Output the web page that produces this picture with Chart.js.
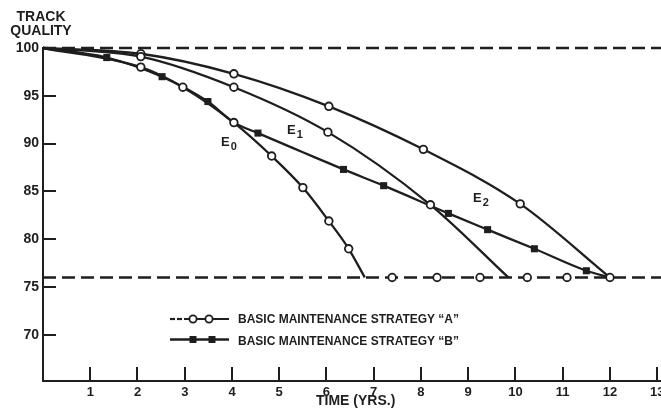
<!DOCTYPE html>
<html>
<head>
<meta charset="utf-8">
<script src="https://cdn.jsdelivr.net/npm/chart.js@4.4.0/dist/chart.umd.min.js"></script>
<style>
  html, body { margin: 0; padding: 0; background: #fff; }
  #wrap { position: relative; width: 661px; height: 415px; overflow: hidden;
          font-family: "Liberation Sans", Arial, sans-serif; font-weight: bold; color: #1e1e1e; }
  #chart { position: absolute; left: 0; top: 0; }
  .lbl { position: absolute; white-space: nowrap; }
  .sub { font-size: 11px; position: relative; top: 4px; margin-left: 1px; }
</style>
</head>
<body>
<div id="wrap">
  <canvas id="chart" width="661" height="415"></canvas>

  <div class="lbl" style="left:0;top:9px;width:82px;text-align:center;font-size:14px;line-height:14px;">TRACK<br>QUALITY</div>
  <div class="lbl" style="left:316px;top:393px;font-size:14px;line-height:14px;">TIME (YRS.)</div>

  <div class="lbl" style="left:221px;top:135px;font-size:13px;line-height:13px;">E<span class="sub">0</span></div>
  <div class="lbl" style="left:287px;top:123px;font-size:13px;line-height:13px;">E<span class="sub">1</span></div>
  <div class="lbl" style="left:473px;top:191px;font-size:13px;line-height:13px;">E<span class="sub">2</span></div>

  <svg class="lbl" style="left:165px;top:310px;" width="70" height="40">
    <g stroke="#1e1e1e" stroke-width="2.2" fill="none">
      <line x1="5" y1="9" x2="10" y2="9" />
      <line x1="12" y1="9" x2="17" y2="9" />
      <line x1="19" y1="9" x2="64" y2="9" />
      <circle cx="28" cy="9" r="3.6" fill="#fff" stroke-width="1.8" />
      <circle cx="44" cy="9" r="3.6" fill="#fff" stroke-width="1.8" />
      <line x1="5" y1="29.5" x2="64" y2="29.5" stroke-width="2.6" />
    </g>
    <rect x="24.5" y="26" width="7" height="7" fill="#1e1e1e" />
    <rect x="43.5" y="26" width="7" height="7" fill="#1e1e1e" />
  </svg>
  <div class="lbl" style="left:238px;top:313px;font-size:12px;line-height:12px;">BASIC MAINTENANCE STRATEGY “A”</div>
  <div class="lbl" style="left:238px;top:335px;font-size:12px;line-height:12px;">BASIC MAINTENANCE STRATEGY “B”</div>
</div>

<script>
// Axis ticks
const xTickValues = [1, 2, 3, 4, 5, 6, 7, 8, 9, 10, 11, 12, 13]
const yTickValues = [70, 75, 80, 85, 90, 95, 100]

// Quality limits (dashed lines)
const yStart = 100
const yLimit = 76

// Curve E0 (strategy A, open circles)
const xE0 = [0, 2.07, 2.96, 4.04, 4.84, 5.5, 6.05, 6.47, 6.81]
const yE0 = [100, 98.0, 95.9, 92.2, 88.7, 85.4, 81.9, 79.0, 76.0]

// Curve E1 (strategy A)
const xE1 = [0, 2.07, 4.04, 6.03, 8.2, 9.85]
const yE1 = [100, 99.1, 95.9, 91.2, 83.6, 76.0]

// Curve E2 (strategy A)
const xE2 = [0, 2.07, 4.04, 6.05, 8.05, 10.1, 12.0]
const yE2 = [100, 99.4, 97.3, 93.9, 89.4, 83.7, 76.0]

// Strategy B (filled squares)
const xB = [0, 1.35, 2.52, 3.49, 4.04, 4.55, 5.5, 6.36, 7.21, 8.58, 9.41, 10.4, 11.5, 12.0]
const yB = [100, 99.0, 97.0, 94.4, 92.2, 91.1, 89.1, 87.3, 85.6, 82.7, 81.0, 79.0, 76.7, 76.0]

// Open circles sitting on the lower limit line
const xLimitMarks = [7.39, 8.34, 9.25, 10.25, 11.09, 12.0]

const ink = "#1e1e1e"
const xMax = 13.08

function toPoints(xs, ys) {
  return xs.map((x, i) => ({ x: x, y: ys[i] }))
}

// hide marker on the first and last point of a curve
function curveRadius(size, skipX) {
  return (ctx) => {
    const n = ctx.dataset.data.length
    const p = ctx.raw
    if (ctx.dataIndex === 0 || ctx.dataIndex === n - 1) return 0
    if (skipX && p && skipX.includes(p.x)) return 0
    return size
  }
}

function curveA(xs, ys) {
  return {
    data: toPoints(xs, ys),
    borderColor: ink,
    borderWidth: 2.3,
    pointStyle: "circle",
    pointRadius: curveRadius(3.8),
    pointBorderWidth: 1.8,
    pointBackgroundColor: "#fff",
    pointBorderColor: ink,
    cubicInterpolationMode: "monotone",
    clip: false,
    order: 1,
  }
}

// Tick marks drawn inside the plot, like the original figure
const insideTicks = {
  id: "insideTicks",
  afterDraw(chart) {
    const { ctx, chartArea, scales } = chart
    ctx.save()
    ctx.strokeStyle = ink
    ctx.lineWidth = 2
    ctx.beginPath()
    xTickValues.forEach((v) => {
      const px = Math.round(scales.x.getPixelForValue(v))
      ctx.moveTo(px, chartArea.bottom)
      ctx.lineTo(px, chartArea.bottom - 14)
    })
    yTickValues.forEach((v) => {
      const py = Math.round(scales.y.getPixelForValue(v))
      ctx.moveTo(chartArea.left, py)
      ctx.lineTo(chartArea.left + 13, py)
    })
    ctx.stroke()
    ctx.restore()
  },
}

const ctx = document.getElementById("chart").getContext("2d")

new Chart(ctx, {
  type: "line",
  data: {
    datasets: [
      {
        data: toPoints([0, xMax], [yStart, yStart]),
        borderColor: ink,
        borderWidth: 2.5,
        borderDash: [13, 6],
        pointRadius: 0,
        clip: false,
        order: 5,
      },
      {
        data: toPoints([0, xMax], [yLimit, yLimit]),
        borderColor: ink,
        borderWidth: 2.5,
        borderDash: [13, 6],
        pointRadius: 0,
        clip: false,
        order: 5,
      },
      {
        data: toPoints(xB, yB),
        borderColor: ink,
        borderWidth: 2.3,
        pointStyle: "rect",
        pointRadius: curveRadius(5, xE0),
        pointBorderWidth: 0,
        pointBackgroundColor: ink,
        cubicInterpolationMode: "monotone",
        clip: false,
        order: 2,
      },
      curveA(xE0, yE0),
      curveA(xE1, yE1),
      curveA(xE2, yE2),
      {
        data: xLimitMarks.map((x) => ({ x: x, y: yLimit })),
        showLine: false,
        pointStyle: "circle",
        pointRadius: 3.8,
        pointBorderWidth: 1.8,
        pointBackgroundColor: "#fff",
        pointBorderColor: ink,
        clip: false,
        order: 0,
      },
    ],
  },
  options: {
    responsive: false,
    animation: false,
    events: [],
    layout: { autoPadding: false, padding: { top: 48, right: 0, bottom: 0, left: 0 } },
    plugins: {
      legend: { display: false },
      tooltip: { enabled: false },
    },
    scales: {
      x: {
        type: "linear",
        min: 0,
        max: xMax,
        afterBuildTicks: (scale) => {
          scale.ticks = xTickValues.map((v) => ({ value: v }))
        },
        afterFit: (scale) => {
          scale.height = 34
          scale.paddingLeft = 0
          scale.paddingRight = 0
        },
        ticks: {
          color: ink,
          font: { family: "Liberation Sans", size: 13, weight: "bold" },
          padding: 4,
          maxRotation: 0,
          autoSkip: false,
        },
        grid: { drawOnChartArea: false, drawTicks: false },
        border: { display: true, color: ink, width: 2 },
      },
      y: {
        type: "linear",
        min: 65.17,
        max: 100,
        afterBuildTicks: (scale) => {
          scale.ticks = yTickValues.map((v) => ({ value: v }))
        },
        afterFit: (scale) => {
          scale.width = 43
          scale.paddingTop = 0
          scale.paddingBottom = 0
        },
        ticks: {
          color: ink,
          font: { family: "Liberation Sans", size: 14, weight: "bold" },
          padding: 4,
          autoSkip: false,
        },
        grid: { drawOnChartArea: false, drawTicks: false },
        border: { display: true, color: ink, width: 2 },
      },
    },
  },
  plugins: [insideTicks],
})
</script>
</body>
</html>
